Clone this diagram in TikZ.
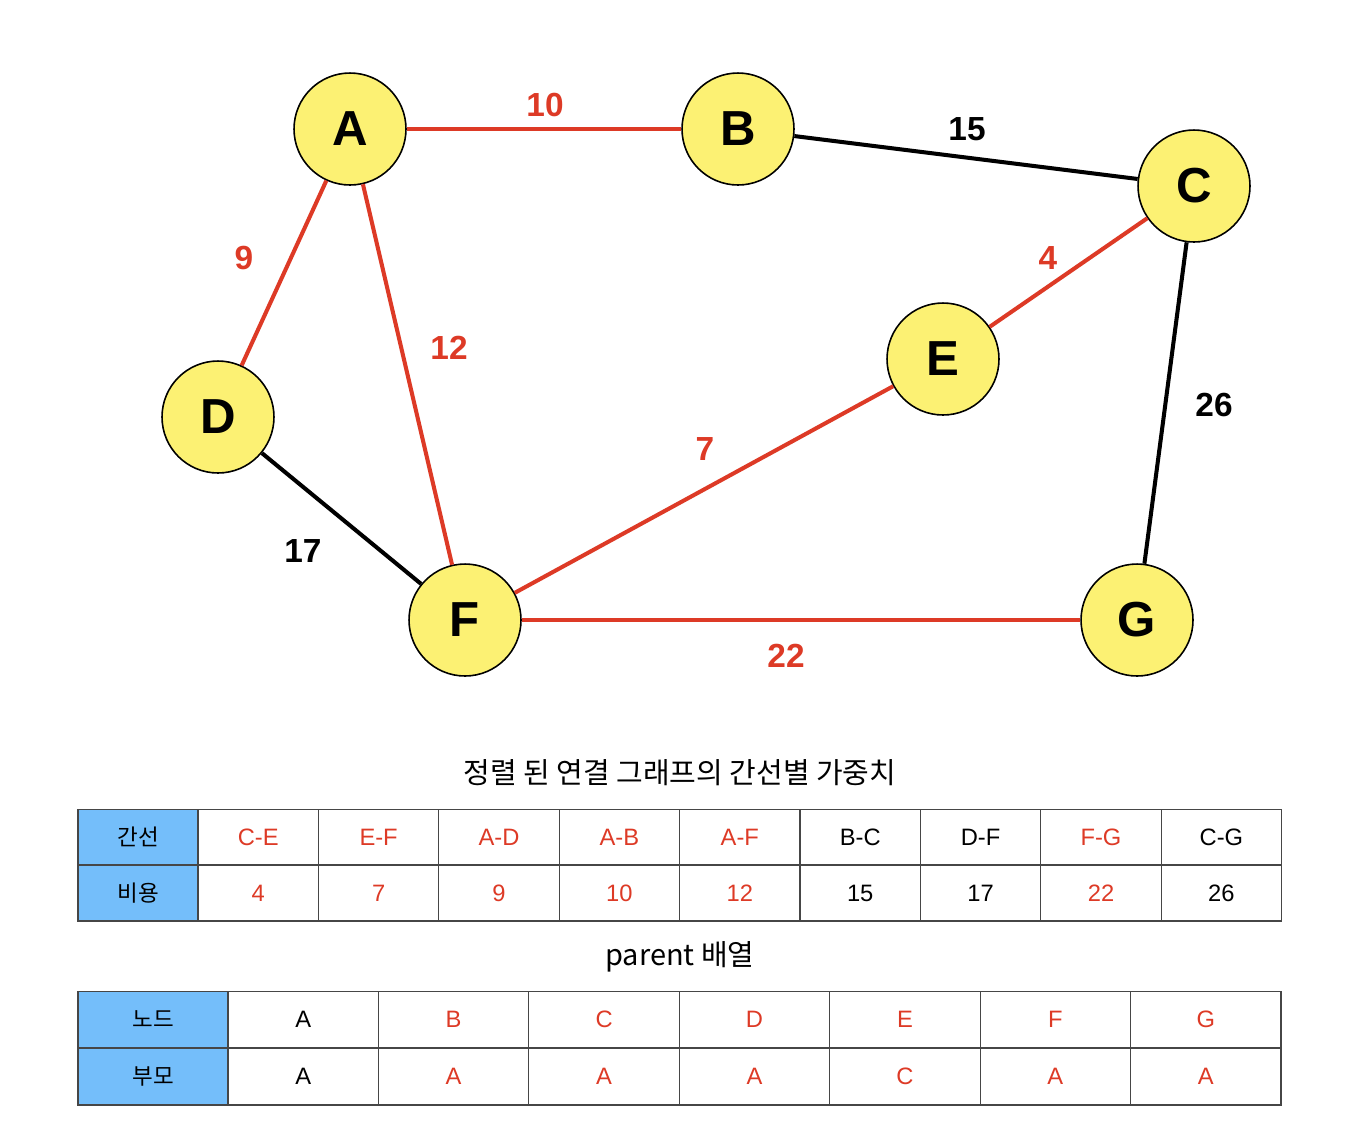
\documentclass[tikz,border=0pt]{standalone}
\usepackage{fontspec}
\setmainfont{Liberation Sans}
\newfontfamily\kofont{Noto Sans CJK KR}
\usetikzlibrary{positioning}

\definecolor{mstred}{RGB}{221,58,38}
\definecolor{vtxyellow}{RGB}{252,241,115}
\definecolor{hdrblue}{RGB}{116,190,250}
\definecolor{gridgray}{RGB}{70,70,70}

\begin{document}
\begin{tikzpicture}[x=0.02cm,y=-0.02cm,
  vtx/.style={circle,draw,line width=0.9pt,fill=vtxyellow,minimum size=2.24cm,inner sep=0pt,font=\fontsize{28}{28}\selectfont\bfseries},
  edge/.style={line width=2.3pt},
  mst/.style={edge,draw=mstred},
  wt/.style={font=\fontsize{19}{19}\selectfont\bfseries},
  cell/.style={draw=gridgray,line width=0.6pt,inner sep=0pt,font=\fontsize{13.5}{13.5}\selectfont},
  hcell/.style={cell,fill=hdrblue,font=\fontsize{12.8}{12.8}\kofont},
  ttl/.style={font=\fontsize{16.5}{16.5}\kofont}]
  \useasboundingbox (0,0) rectangle (1364,1144);
  % vertices
  \node[vtx] (A) at (350,129) {A};
  \node[vtx] (B) at (738,129) {B};
  \node[vtx] (C) at (1194,186) {C};
  \node[vtx] (D) at (218,417) {D};
  \node[vtx] (E) at (943,359) {E};
  \node[vtx] (F) at (465,620) {F};
  \node[vtx] (G) at (1137,620) {G};
  % edges
  \draw[mst] (A) -- (B);
  \draw[edge] (B) -- (C);
  \draw[mst] (A) -- (D);
  \draw[mst] (A) -- (F);
  \draw[mst] (C) -- (E);
  \draw[mst] (E) -- (F);
  \draw[edge] (C) -- (G);
  \draw[edge] (D) -- (F);
  \draw[mst] (F) -- (G);
  % weights
  \node[wt,text=mstred] (wab) at (545,105) {10};
  \node[wt] (wbc) at (967,129) {15};
  \node[wt,text=mstred] (wad) at (244,258) {9};
  \node[wt,text=mstred] (waf) at (449,348) {12};
  \node[wt,text=mstred] (wce) at (1048,258) {4};
  \node[wt,text=mstred] (wef) at (705,449) {7};
  \node[wt] (wcg) at (1214,405) {26};
  \node[wt] (wdf) at (303,551) {17};
  \node[wt,text=mstred] (wfg) at (786,656) {22};
  % sorted edge table
  \node[ttl] (title1) at (680,773) {정렬 된 연결 그래프의 간선별 가중치};
  \node[hcell,minimum width=2.4cm,minimum height=1.12cm] (h1) at (138,837) {간선};
  \node[hcell,minimum width=2.4cm,minimum height=1.12cm] (h2) at (138,893) {비용};
  \foreach \e/\w/\c [count=\i] in {C-E/4/mstred,E-F/7/mstred,A-D/9/mstred,A-B/10/mstred,A-F/12/mstred,B-C/15/black,D-F/17/black,F-G/22/mstred,C-G/26/black}{
    \node[cell,minimum width=2.408cm,minimum height=1.12cm,text=\c] (e\i) at ({198+120.4*(\i-0.5)},837) {\e};
    \node[cell,minimum width=2.408cm,minimum height=1.12cm,text=\c] (w\i) at ({198+120.4*(\i-0.5)},893) {\w};
  }
  % parent table
  \node[ttl] (title2) at (680,957) {parent 배열};
  \node[hcell,minimum width=3cm,minimum height=1.14cm] (h3) at (153,1019.5) {노드};
  \node[hcell,minimum width=3cm,minimum height=1.14cm] (h4) at (153,1076.5) {부모};
  \foreach \v/\p/\c [count=\i] in {A/A/black,B/A/mstred,C/A/mstred,D/A/mstred,E/C/mstred,F/A/mstred,G/A/mstred}{
    \node[cell,minimum width=3.0086cm,minimum height=1.14cm,text=\c] (v\i) at ({228+150.43*(\i-0.5)},1019.5) {\v};
    \node[cell,minimum width=3.0086cm,minimum height=1.14cm,text=\c] (p\i) at ({228+150.43*(\i-0.5)},1076.5) {\p};
  }
\end{tikzpicture}
\end{document}
